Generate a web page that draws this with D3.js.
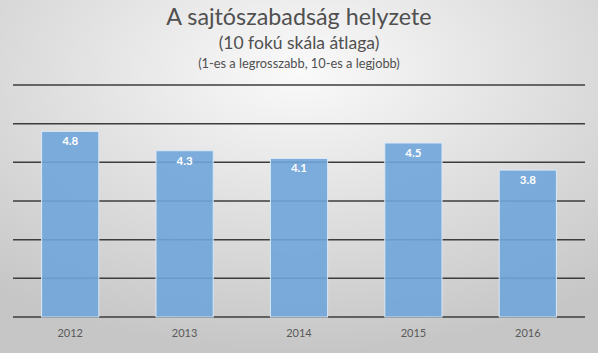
<!DOCTYPE html>
<html>
<head>
<meta charset="utf-8">
<script src="https://cdn.jsdelivr.net/npm/d3@7"></script>
<style>
  body { margin: 0; }
  svg { display: block; font-family: Lato, "Noto Sans", sans-serif; }
</style>
</head>
<body>
<div id="chart"></div>
<script>
const years = ["2012", "2013", "2014", "2015", "2016"];
const values = [4.8, 4.3, 4.1, 4.5, 3.8];
const yTicks = [0, 1, 2, 3, 4, 5, 6];

const width = 598, height = 353;
const margin = {top: 85, right: 13, bottom: 36, left: 13};

let svg = d3.select("#chart").append("svg")
    .attr("width", width)
    .attr("height", height);

// background
let defs = svg.append("defs");
let grad = defs.append("radialGradient")
    .attr("id", "bg")
    .attr("cx", "50%").attr("cy", "20%").attr("r", "80%");
grad.append("stop").attr("offset", "0%").attr("stop-color", "#fafafa");
grad.append("stop").attr("offset", "100%").attr("stop-color", "#c6c6c6");
svg.append("rect")
    .attr("width", width).attr("height", height)
    .attr("fill", "url(#bg)");

let x = d3.scaleBand()
    .domain(years)
    .range([margin.left, width - margin.right])
    .paddingInner(0.5)
    .paddingOuter(0.25);

let y = d3.scaleLinear()
    .domain([0, 6])
    .range([height - margin.bottom, margin.top]);

// gridlines
svg.append("g")
    .selectAll("line")
    .data(yTicks)
    .join("line")
    .attr("x1", margin.left)
    .attr("x2", width - margin.right)
    .attr("y1", d => y(d))
    .attr("y2", d => y(d))
    .attr("stroke", "#3c3c3c")
    .attr("stroke-width", 1.5);

// bars
let bars = svg.append("g");
bars.selectAll("rect")
    .data(values)
    .join("rect")
    .attr("x", (d, i) => x(years[i]))
    .attr("width", x.bandwidth())
    .attr("y", d => y(d))
    .attr("height", d => y(0) - y(d))
    .attr("fill", "#6fa5da")
    .attr("fill-opacity", 0.9)
    .attr("stroke", "#dbe8f5")
    .attr("stroke-width", 1);

bars.selectAll("text")
    .data(values)
    .join("text")
    .attr("x", (d, i) => x(years[i]) + x.bandwidth() / 2)
    .attr("y", d => y(d) + 14)
    .attr("text-anchor", "middle")
    .attr("fill", "#ffffff")
    .attr("font-size", 11.5)
    .attr("font-weight", "bold")
    .text(d => d.toFixed(1));

// x axis labels
svg.append("g")
    .selectAll("text")
    .data(years)
    .join("text")
    .attr("x", d => x(d) + x.bandwidth() / 2)
    .attr("y", height - margin.bottom + 20)
    .attr("text-anchor", "middle")
    .attr("fill", "#595959")
    .attr("font-size", 11)
    .text(d => d);

// titles
let cx = 299;
svg.append("text")
    .attr("x", cx).attr("y", 25)
    .attr("text-anchor", "middle")
    .attr("fill", "#505050")
    .attr("font-size", 23.3)
    .text("A sajtószabadság helyzete");
svg.append("text")
    .attr("x", cx).attr("y", 48.5)
    .attr("text-anchor", "middle")
    .attr("fill", "#505050")
    .attr("font-size", 17.5)
    .text("(10 fokú skála átlaga)");
svg.append("text")
    .attr("x", cx).attr("y", 68)
    .attr("text-anchor", "middle")
    .attr("fill", "#505050")
    .attr("font-size", 12.8)
    .text("(1-es a legrosszabb, 10-es a legjobb)");
</script>
</body>
</html>
